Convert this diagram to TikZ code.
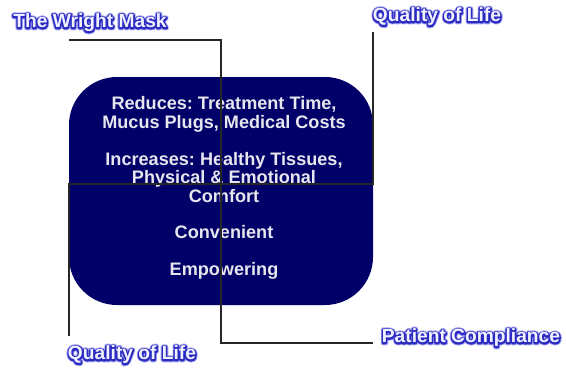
\documentclass[tikz,border=0pt]{standalone}
\usepackage{fontspec}
\setmainfont{Liberation Sans}
\definecolor{boxnavy}{HTML}{000068}
\definecolor{boxtext}{HTML}{E6E6EE}
\definecolor{tagfill}{HTML}{F2F2FF}
% stroked glyph outlines (PDF text render mode 1 = stroke only)
\newcommand{\strokedtext}[3]{% #1 stroke width, #2 stroke rgb, #3 text
  {\special{pdf:literal direct 1 Tr #1 w 1 j #2 RG}#3\special{pdf:literal direct 0 Tr}}}
\newcommand{\tagglowtext}[1]{\strokedtext{4.8}{0.66 0.66 0.94}{#1}}
\newcommand{\tagrimtext}[1]{\strokedtext{3.0}{0.17 0.17 0.76}{#1}}
\newcommand{\tagfilltext}[1]{\textcolor{tagfill}{#1}}
\tikzset{
  benefitbox/.style={fill=boxnavy, draw=none, rounded corners=48pt},
  benefittext/.style={text=boxtext, font=\fontsize{18.1}{18.7}\selectfont\bfseries,
    align=center, inner sep=0pt},
  tagtext/.style={font=\fontsize{19.2}{20}\selectfont\bfseries, inner sep=0pt},
  leader/.style={draw=black!85, line width=1.3pt}
}
\begin{document}
\frenchspacing
\begin{tikzpicture}[x=1pt, y=-1pt]
  \useasboundingbox (0,0) rectangle (566,368);

  % central rounded panel
  \path[benefitbox] (69,77) rectangle (373,305);
  \node[benefittext, anchor=north] (benefits) at (224,96)
    {Reduces: Treatment Time,\\
     Mucus Plugs, Medical Costs\\[18.3pt]
     Increases: Healthy Tissues,\\
     Physical \& Emotional\\
     Comfort\\[17.3pt]
     Convenient\\[18.3pt]
     Empowering};

  % outlined labels: soft halo, blue rim, then the light fill on top
  \foreach \nm/\px/\py/\txt in {mask/90/23/The Wright Mask,
                              qtop/437/17/Quality of Life,
                              qbot/132/355/Quality of Life,
                              comp/471/338/Patient Compliance}{
    \node[tagtext] at (\px,\py) {\tagglowtext{\txt}};
    \node[tagtext] at (\px,\py) {\tagrimtext{\txt}};
    \node[tagtext] (\nm) at (\px,\py) {\tagfilltext{\txt}};
  }

  % leader line ends and bends
  \coordinate (maskEnd) at (69,40);
  \coordinate (maskBend) at (221,40);
  \coordinate (compBend) at (221,343);
  \coordinate (compEnd) at (373,343);
  \coordinate (qtopEnd) at (373,32);
  \coordinate (qtopBend) at (373,184);
  \coordinate (qbotBend) at (69,184);
  \coordinate (qbotEnd) at (69,336);

  \draw[leader] (maskEnd) -- (maskBend) -- (compBend) -- (compEnd);
  \draw[leader] (qtopEnd) -- (qtopBend) -- (qbotBend) -- (qbotEnd);
\end{tikzpicture}
\end{document}
